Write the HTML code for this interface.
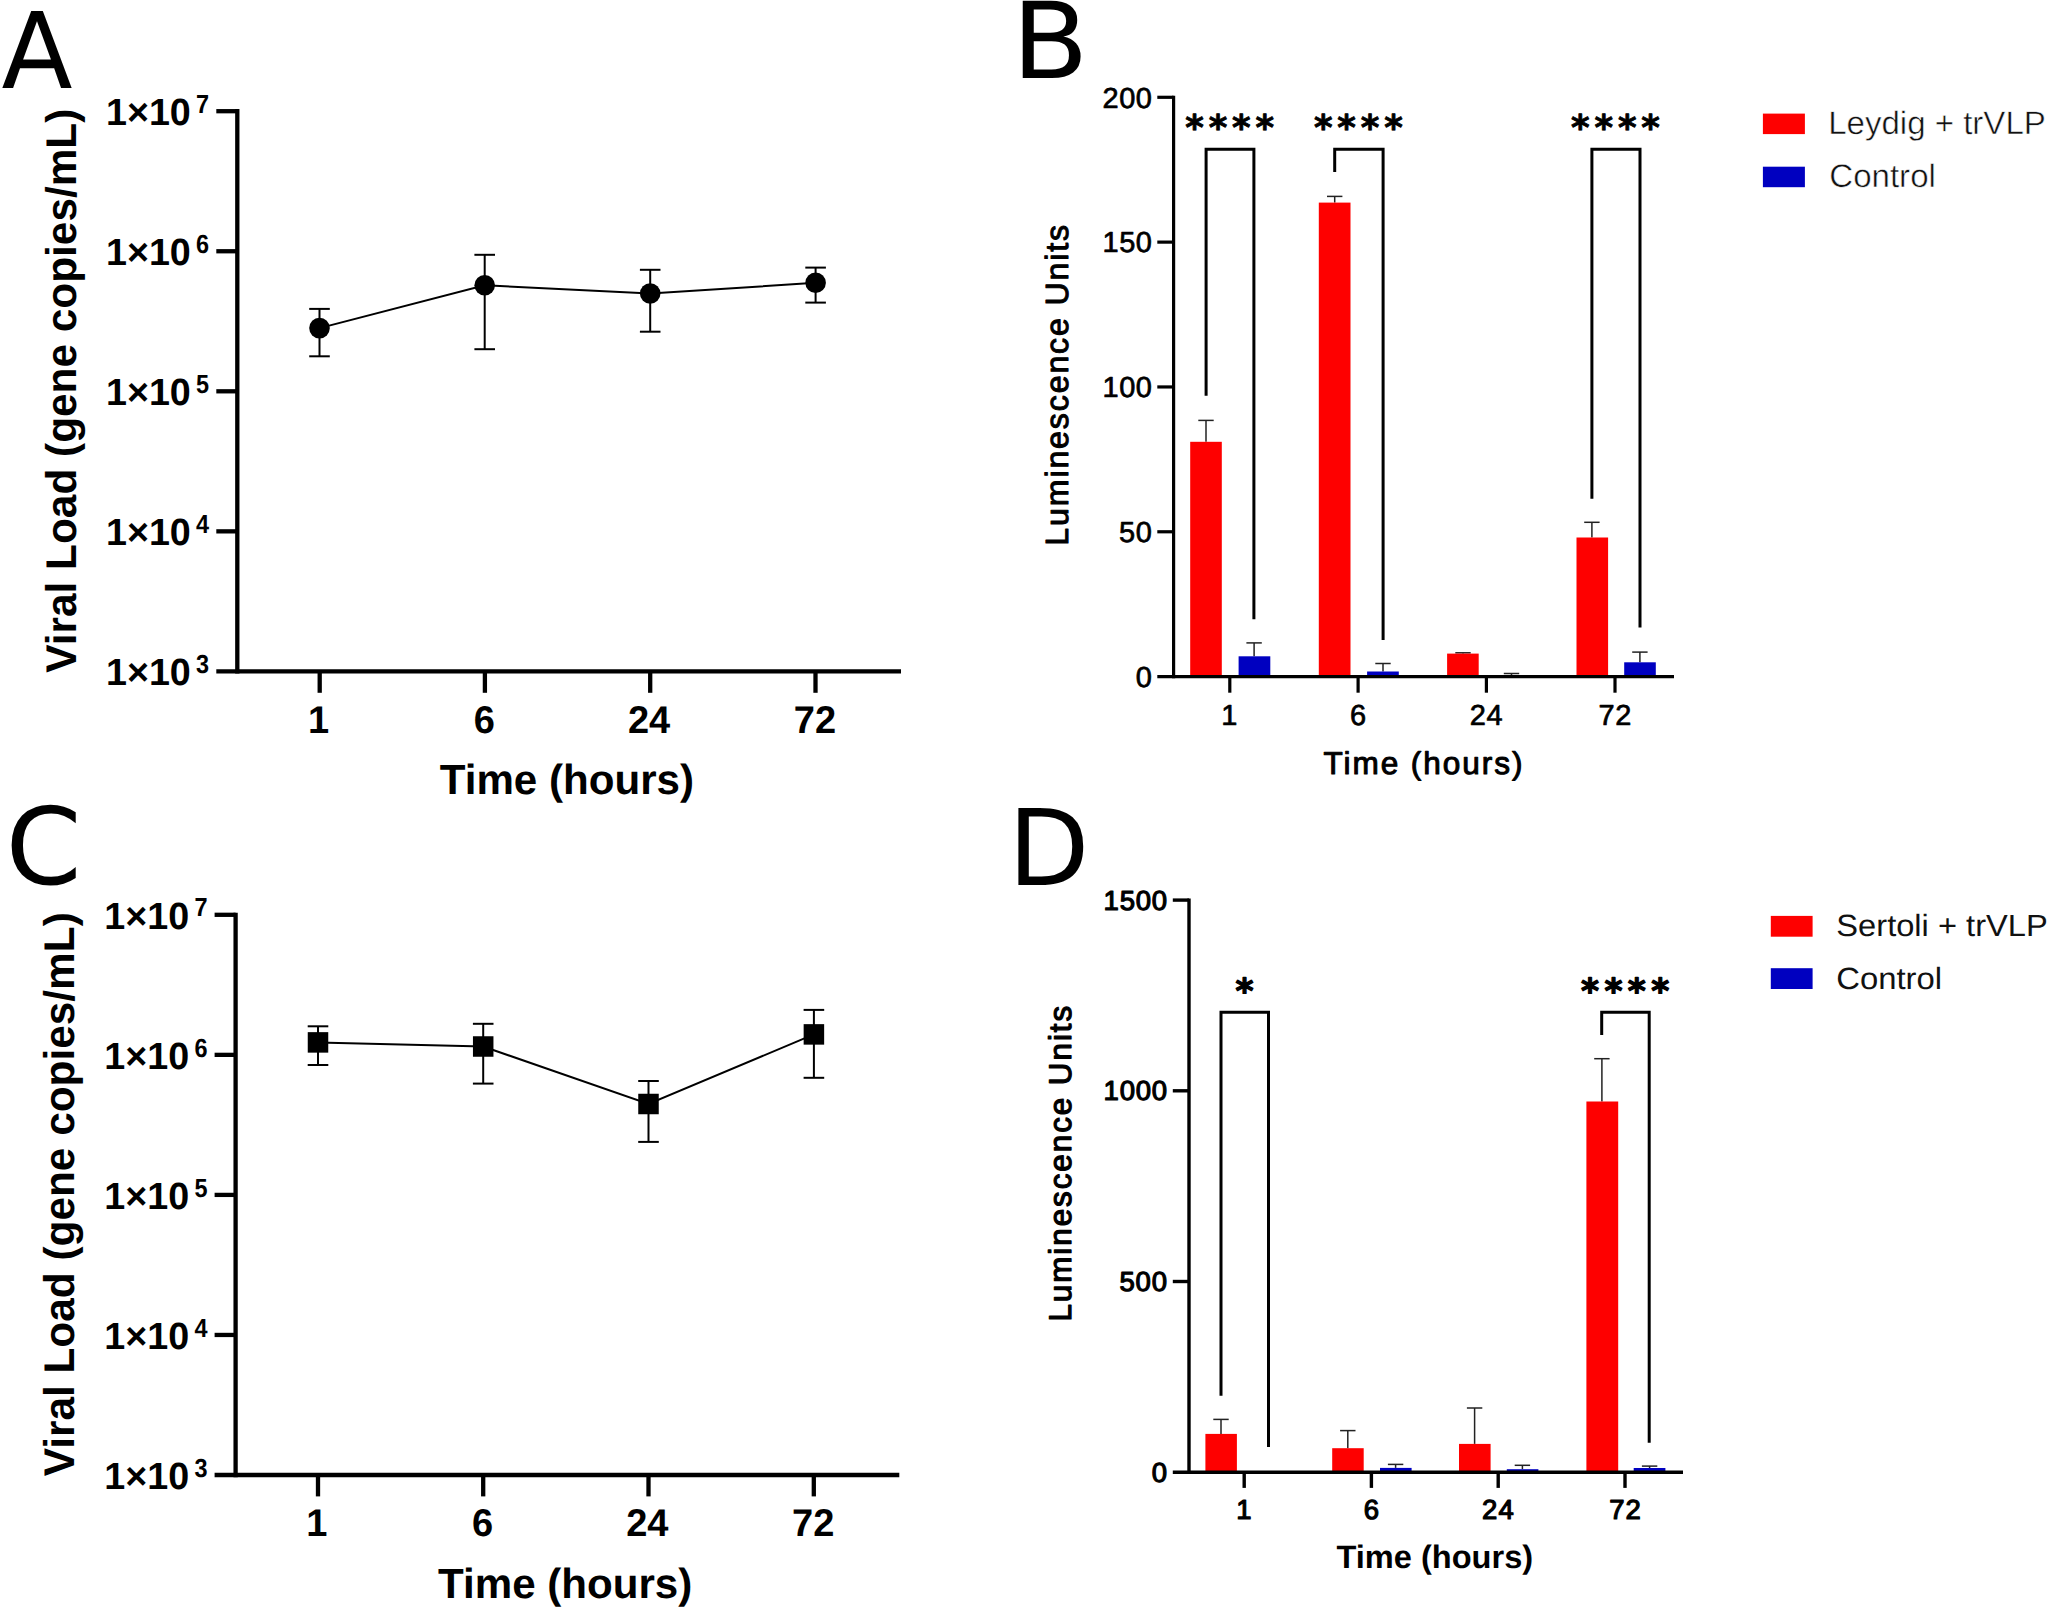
<!DOCTYPE html>
<html lang="en"><head><meta charset="utf-8"><title>Figure</title>
<style>html,body{margin:0;padding:0;background:#fff;overflow:hidden;}svg{display:block;}text{text-rendering:geometricPrecision;}</style>
</head><body>
<svg width="2050" height="1609" viewBox="0 0 2050 1609">
<rect width="2050" height="1609" fill="#fff"/>
<g id="panel-labels">
<text x="1.52" y="88.3" font-family='"DejaVu Sans", "Liberation Sans", sans-serif' font-size="105.62" textLength="71.02" lengthAdjust="spacingAndGlyphs">A</text>
<text x="1011.79" y="78.45" font-family='"DejaVu Sans", "Liberation Sans", sans-serif' font-size="105.82" textLength="76.76" lengthAdjust="spacingAndGlyphs">B</text>
<text x="5.51" y="884.3" font-family='"DejaVu Sans", "Liberation Sans", sans-serif' font-size="106.73" textLength="76.1" lengthAdjust="spacingAndGlyphs">C</text>
<text x="1007.98" y="885.3" font-family='"DejaVu Sans", "Liberation Sans", sans-serif' font-size="105.68" textLength="81.47" lengthAdjust="spacingAndGlyphs">D</text>
</g>
<g id="panel-a">
<line x1="237.3" y1="109.05" x2="237.3" y2="673.55" stroke="#000" stroke-width="4.3"/>
<line x1="216.3" y1="671.4" x2="901" y2="671.4" stroke="#000" stroke-width="4.3"/>
<line x1="216.3" y1="111.2" x2="237.3" y2="111.2" stroke="#000" stroke-width="4.3"/>
<text x="105.95" y="124.96" font-family='"Liberation Sans", sans-serif' font-size="37.98" font-weight="bold" textLength="84.86" lengthAdjust="spacingAndGlyphs">1×10</text>
<text x="196.1" y="112.85" font-family='"Liberation Sans", sans-serif' font-size="26.1" font-weight="bold" textLength="13.06" lengthAdjust="spacingAndGlyphs">7</text>
<line x1="216.3" y1="251.25" x2="237.3" y2="251.25" stroke="#000" stroke-width="4.3"/>
<text x="105.95" y="265.01" font-family='"Liberation Sans", sans-serif' font-size="37.98" font-weight="bold" textLength="84.86" lengthAdjust="spacingAndGlyphs">1×10</text>
<text x="196.1" y="252.9" font-family='"Liberation Sans", sans-serif' font-size="26.1" font-weight="bold" textLength="13.06" lengthAdjust="spacingAndGlyphs">6</text>
<line x1="216.3" y1="391.3" x2="237.3" y2="391.3" stroke="#000" stroke-width="4.3"/>
<text x="105.95" y="405.06" font-family='"Liberation Sans", sans-serif' font-size="37.98" font-weight="bold" textLength="84.86" lengthAdjust="spacingAndGlyphs">1×10</text>
<text x="196.1" y="392.95" font-family='"Liberation Sans", sans-serif' font-size="26.1" font-weight="bold" textLength="13.06" lengthAdjust="spacingAndGlyphs">5</text>
<line x1="216.3" y1="531.35" x2="237.3" y2="531.35" stroke="#000" stroke-width="4.3"/>
<text x="105.95" y="545.11" font-family='"Liberation Sans", sans-serif' font-size="37.98" font-weight="bold" textLength="84.86" lengthAdjust="spacingAndGlyphs">1×10</text>
<text x="196.1" y="533" font-family='"Liberation Sans", sans-serif' font-size="26.1" font-weight="bold" textLength="13.06" lengthAdjust="spacingAndGlyphs">4</text>
<text x="105.95" y="685.16" font-family='"Liberation Sans", sans-serif' font-size="37.98" font-weight="bold" textLength="84.86" lengthAdjust="spacingAndGlyphs">1×10</text>
<text x="196.1" y="673.05" font-family='"Liberation Sans", sans-serif' font-size="26.1" font-weight="bold" textLength="13.06" lengthAdjust="spacingAndGlyphs">3</text>
<line x1="319.7" y1="671.4" x2="319.7" y2="692.8" stroke="#000" stroke-width="4.3"/>
<text x="307.88" y="732.5" font-family='"Liberation Sans", sans-serif' font-size="38.6" font-weight="bold" textLength="21.15" lengthAdjust="spacingAndGlyphs">1</text>
<line x1="484.9" y1="671.4" x2="484.9" y2="692.8" stroke="#000" stroke-width="4.3"/>
<text x="473.7" y="732.5" font-family='"Liberation Sans", sans-serif' font-size="38.6" font-weight="bold" textLength="21.15" lengthAdjust="spacingAndGlyphs">6</text>
<line x1="650.2" y1="671.4" x2="650.2" y2="692.8" stroke="#000" stroke-width="4.3"/>
<text x="627.93" y="732.5" font-family='"Liberation Sans", sans-serif' font-size="38.6" font-weight="bold" textLength="42.29" lengthAdjust="spacingAndGlyphs">24</text>
<line x1="815.5" y1="671.4" x2="815.5" y2="692.8" stroke="#000" stroke-width="4.3"/>
<text x="793.75" y="732.5" font-family='"Liberation Sans", sans-serif' font-size="38.6" font-weight="bold" textLength="42.29" lengthAdjust="spacingAndGlyphs">72</text>
<text x="439.78" y="794.4" font-family='"Liberation Sans", sans-serif' font-size="42.04" font-weight="bold" textLength="254.24" lengthAdjust="spacingAndGlyphs">Time (hours)</text>
<text x="76" y="672.72" font-family='"Liberation Sans", sans-serif' font-size="42.91" font-weight="bold" textLength="564.07" lengthAdjust="spacingAndGlyphs" transform="rotate(-90 76 672.72)">Viral Load (gene copies/mL)</text>
<polyline points="319.5,328.1 484.7,285.3 650.2,293.5 815.6,282.8" fill="none" stroke="#000" stroke-width="2"/>
<line x1="319.5" y1="308.9" x2="319.5" y2="356.3" stroke="#000" stroke-width="2"/>
<line x1="309.2" y1="308.9" x2="329.8" y2="308.9" stroke="#000" stroke-width="2"/>
<line x1="309.2" y1="356.3" x2="329.8" y2="356.3" stroke="#000" stroke-width="2"/>
<circle cx="319.5" cy="328.1" r="10.3" fill="#000"/>
<line x1="484.7" y1="254.8" x2="484.7" y2="349.2" stroke="#000" stroke-width="2"/>
<line x1="474.4" y1="254.8" x2="495" y2="254.8" stroke="#000" stroke-width="2"/>
<line x1="474.4" y1="349.2" x2="495" y2="349.2" stroke="#000" stroke-width="2"/>
<circle cx="484.7" cy="285.3" r="10.3" fill="#000"/>
<line x1="650.2" y1="269.8" x2="650.2" y2="331.7" stroke="#000" stroke-width="2"/>
<line x1="639.9" y1="269.8" x2="660.5" y2="269.8" stroke="#000" stroke-width="2"/>
<line x1="639.9" y1="331.7" x2="660.5" y2="331.7" stroke="#000" stroke-width="2"/>
<circle cx="650.2" cy="293.5" r="10.3" fill="#000"/>
<line x1="815.6" y1="267.6" x2="815.6" y2="302.6" stroke="#000" stroke-width="2"/>
<line x1="805.3" y1="267.6" x2="825.9" y2="267.6" stroke="#000" stroke-width="2"/>
<line x1="805.3" y1="302.6" x2="825.9" y2="302.6" stroke="#000" stroke-width="2"/>
<circle cx="815.6" cy="282.8" r="10.3" fill="#000"/>
</g>
<g id="panel-c">
<line x1="235.6" y1="912.65" x2="235.6" y2="1477.15" stroke="#000" stroke-width="4.3"/>
<line x1="214.6" y1="1475" x2="899.3" y2="1475" stroke="#000" stroke-width="4.3"/>
<line x1="214.6" y1="914.8" x2="235.6" y2="914.8" stroke="#000" stroke-width="4.3"/>
<text x="104.25" y="928.56" font-family='"Liberation Sans", sans-serif' font-size="37.98" font-weight="bold" textLength="84.86" lengthAdjust="spacingAndGlyphs">1×10</text>
<text x="194.4" y="916.45" font-family='"Liberation Sans", sans-serif' font-size="26.1" font-weight="bold" textLength="13.06" lengthAdjust="spacingAndGlyphs">7</text>
<line x1="214.6" y1="1054.85" x2="235.6" y2="1054.85" stroke="#000" stroke-width="4.3"/>
<text x="104.25" y="1068.61" font-family='"Liberation Sans", sans-serif' font-size="37.98" font-weight="bold" textLength="84.86" lengthAdjust="spacingAndGlyphs">1×10</text>
<text x="194.4" y="1056.5" font-family='"Liberation Sans", sans-serif' font-size="26.1" font-weight="bold" textLength="13.06" lengthAdjust="spacingAndGlyphs">6</text>
<line x1="214.6" y1="1194.9" x2="235.6" y2="1194.9" stroke="#000" stroke-width="4.3"/>
<text x="104.25" y="1208.66" font-family='"Liberation Sans", sans-serif' font-size="37.98" font-weight="bold" textLength="84.86" lengthAdjust="spacingAndGlyphs">1×10</text>
<text x="194.4" y="1196.55" font-family='"Liberation Sans", sans-serif' font-size="26.1" font-weight="bold" textLength="13.06" lengthAdjust="spacingAndGlyphs">5</text>
<line x1="214.6" y1="1334.95" x2="235.6" y2="1334.95" stroke="#000" stroke-width="4.3"/>
<text x="104.25" y="1348.71" font-family='"Liberation Sans", sans-serif' font-size="37.98" font-weight="bold" textLength="84.86" lengthAdjust="spacingAndGlyphs">1×10</text>
<text x="194.4" y="1336.6" font-family='"Liberation Sans", sans-serif' font-size="26.1" font-weight="bold" textLength="13.06" lengthAdjust="spacingAndGlyphs">4</text>
<text x="104.25" y="1488.76" font-family='"Liberation Sans", sans-serif' font-size="37.98" font-weight="bold" textLength="84.86" lengthAdjust="spacingAndGlyphs">1×10</text>
<text x="194.4" y="1476.65" font-family='"Liberation Sans", sans-serif' font-size="26.1" font-weight="bold" textLength="13.06" lengthAdjust="spacingAndGlyphs">3</text>
<line x1="318" y1="1475" x2="318" y2="1496.4" stroke="#000" stroke-width="4.3"/>
<text x="306.18" y="1536.1" font-family='"Liberation Sans", sans-serif' font-size="38.6" font-weight="bold" textLength="21.15" lengthAdjust="spacingAndGlyphs">1</text>
<line x1="483.2" y1="1475" x2="483.2" y2="1496.4" stroke="#000" stroke-width="4.3"/>
<text x="472" y="1536.1" font-family='"Liberation Sans", sans-serif' font-size="38.6" font-weight="bold" textLength="21.15" lengthAdjust="spacingAndGlyphs">6</text>
<line x1="648.5" y1="1475" x2="648.5" y2="1496.4" stroke="#000" stroke-width="4.3"/>
<text x="626.23" y="1536.1" font-family='"Liberation Sans", sans-serif' font-size="38.6" font-weight="bold" textLength="42.29" lengthAdjust="spacingAndGlyphs">24</text>
<line x1="813.8" y1="1475" x2="813.8" y2="1496.4" stroke="#000" stroke-width="4.3"/>
<text x="792.05" y="1536.1" font-family='"Liberation Sans", sans-serif' font-size="38.6" font-weight="bold" textLength="42.29" lengthAdjust="spacingAndGlyphs">72</text>
<text x="438.08" y="1598" font-family='"Liberation Sans", sans-serif' font-size="42.04" font-weight="bold" textLength="254.24" lengthAdjust="spacingAndGlyphs">Time (hours)</text>
<text x="74.3" y="1476.32" font-family='"Liberation Sans", sans-serif' font-size="42.91" font-weight="bold" textLength="564.07" lengthAdjust="spacingAndGlyphs" transform="rotate(-90 74.3 1476.32)">Viral Load (gene copies/mL)</text>
<polyline points="318,1042.4 483.2,1046.5 648.5,1104 813.9,1034.4" fill="none" stroke="#000" stroke-width="2"/>
<line x1="318" y1="1026.3" x2="318" y2="1065" stroke="#000" stroke-width="2"/>
<line x1="307.7" y1="1026.3" x2="328.3" y2="1026.3" stroke="#000" stroke-width="2"/>
<line x1="307.7" y1="1065" x2="328.3" y2="1065" stroke="#000" stroke-width="2"/>
<rect x="307.75" y="1032.15" width="20.5" height="20.5" fill="#000"/>
<line x1="483.2" y1="1023.8" x2="483.2" y2="1083.6" stroke="#000" stroke-width="2"/>
<line x1="472.9" y1="1023.8" x2="493.5" y2="1023.8" stroke="#000" stroke-width="2"/>
<line x1="472.9" y1="1083.6" x2="493.5" y2="1083.6" stroke="#000" stroke-width="2"/>
<rect x="472.95" y="1036.25" width="20.5" height="20.5" fill="#000"/>
<line x1="648.5" y1="1081" x2="648.5" y2="1141.9" stroke="#000" stroke-width="2"/>
<line x1="638.2" y1="1081" x2="658.8" y2="1081" stroke="#000" stroke-width="2"/>
<line x1="638.2" y1="1141.9" x2="658.8" y2="1141.9" stroke="#000" stroke-width="2"/>
<rect x="638.25" y="1093.75" width="20.5" height="20.5" fill="#000"/>
<line x1="813.9" y1="1009.9" x2="813.9" y2="1077.8" stroke="#000" stroke-width="2"/>
<line x1="803.6" y1="1009.9" x2="824.2" y2="1009.9" stroke="#000" stroke-width="2"/>
<line x1="803.6" y1="1077.8" x2="824.2" y2="1077.8" stroke="#000" stroke-width="2"/>
<rect x="803.65" y="1024.15" width="20.5" height="20.5" fill="#000"/>
</g>
<g id="panel-b">
<line x1="1206" y1="420.4" x2="1206" y2="441.8" stroke="#222" stroke-width="1.5"/>
<line x1="1198.3" y1="420.4" x2="1213.7" y2="420.4" stroke="#222" stroke-width="1.5"/>
<rect x="1190.2" y="441.8" width="31.6" height="234.8" fill="#fe0000"/>
<line x1="1254.1" y1="642.9" x2="1254.1" y2="656.3" stroke="#222" stroke-width="1.5"/>
<line x1="1246.4" y1="642.9" x2="1261.8" y2="642.9" stroke="#222" stroke-width="1.5"/>
<rect x="1238.6" y="656.3" width="31.7" height="20.3" fill="#0000c0"/>
<line x1="1334.7" y1="196.4" x2="1334.7" y2="202.6" stroke="#222" stroke-width="1.5"/>
<line x1="1327" y1="196.4" x2="1342.4" y2="196.4" stroke="#222" stroke-width="1.5"/>
<rect x="1318.8" y="202.6" width="31.7" height="474" fill="#fe0000"/>
<line x1="1383" y1="663.5" x2="1383" y2="671.5" stroke="#222" stroke-width="1.5"/>
<line x1="1375.3" y1="663.5" x2="1390.7" y2="663.5" stroke="#222" stroke-width="1.5"/>
<rect x="1367.1" y="671.5" width="31.7" height="5.1" fill="#0000c0"/>
<line x1="1463" y1="652.8" x2="1463" y2="653.6" stroke="#222" stroke-width="1.5"/>
<line x1="1455.3" y1="652.8" x2="1470.7" y2="652.8" stroke="#222" stroke-width="1.5"/>
<rect x="1447.1" y="653.6" width="31.6" height="23" fill="#fe0000"/>
<line x1="1511.5" y1="673.5" x2="1511.5" y2="675.6" stroke="#222" stroke-width="1.5"/>
<line x1="1503.8" y1="673.5" x2="1519.2" y2="673.5" stroke="#222" stroke-width="1.5"/>
<rect x="1495.5" y="675.6" width="31.6" height="1" fill="#0000c0"/>
<line x1="1591.9" y1="522.3" x2="1591.9" y2="537.5" stroke="#222" stroke-width="1.5"/>
<line x1="1584.2" y1="522.3" x2="1599.6" y2="522.3" stroke="#222" stroke-width="1.5"/>
<rect x="1576.5" y="537.5" width="31.6" height="139.1" fill="#fe0000"/>
<line x1="1639.9" y1="652.1" x2="1639.9" y2="662.3" stroke="#222" stroke-width="1.5"/>
<line x1="1632.2" y1="652.1" x2="1647.6" y2="652.1" stroke="#222" stroke-width="1.5"/>
<rect x="1624.2" y="662.3" width="31.6" height="14.3" fill="#0000c0"/>
<line x1="1173.6" y1="95.7" x2="1173.6" y2="678.2" stroke="#000" stroke-width="3.2"/>
<line x1="1157.3" y1="676.6" x2="1674" y2="676.6" stroke="#000" stroke-width="3.2"/>
<line x1="1157.3" y1="97.3" x2="1173.6" y2="97.3" stroke="#000" stroke-width="3.2"/>
<text x="1102.58" y="107.5" font-family='"Liberation Sans", sans-serif' font-size="28.96" textLength="49.24" lengthAdjust="spacing" stroke="#000" stroke-width="0.7" stroke-linejoin="round">200</text>
<line x1="1157.3" y1="242.12" x2="1173.6" y2="242.12" stroke="#000" stroke-width="3.2"/>
<text x="1102.59" y="252.32" font-family='"Liberation Sans", sans-serif' font-size="28.96" textLength="49.22" lengthAdjust="spacing" stroke="#000" stroke-width="0.7" stroke-linejoin="round">150</text>
<line x1="1157.3" y1="386.95" x2="1173.6" y2="386.95" stroke="#000" stroke-width="3.2"/>
<text x="1102.59" y="397.15" font-family='"Liberation Sans", sans-serif' font-size="28.96" textLength="49.22" lengthAdjust="spacing" stroke="#000" stroke-width="0.7" stroke-linejoin="round">100</text>
<line x1="1157.3" y1="531.77" x2="1173.6" y2="531.77" stroke="#000" stroke-width="3.2"/>
<text x="1119.04" y="541.98" font-family='"Liberation Sans", sans-serif' font-size="28.96" textLength="32.81" lengthAdjust="spacing" stroke="#000" stroke-width="0.7" stroke-linejoin="round">50</text>
<text x="1135.71" y="686.8" font-family='"Liberation Sans", sans-serif' font-size="28.96" stroke="#000" stroke-width="0.7" stroke-linejoin="round">0</text>
<line x1="1229.8" y1="676.6" x2="1229.8" y2="692.7" stroke="#000" stroke-width="3.2"/>
<text x="1221.37" y="724.5" font-family='"Liberation Sans", sans-serif' font-size="28.96" stroke="#000" stroke-width="0.7" stroke-linejoin="round">1</text>
<line x1="1358.1" y1="676.6" x2="1358.1" y2="692.7" stroke="#000" stroke-width="3.2"/>
<text x="1349.95" y="724.5" font-family='"Liberation Sans", sans-serif' font-size="28.96" stroke="#000" stroke-width="0.7" stroke-linejoin="round">6</text>
<line x1="1486.4" y1="676.6" x2="1486.4" y2="692.7" stroke="#000" stroke-width="3.2"/>
<text x="1469.7" y="724.5" font-family='"Liberation Sans", sans-serif' font-size="28.96" textLength="32.81" lengthAdjust="spacing" stroke="#000" stroke-width="0.7" stroke-linejoin="round">24</text>
<line x1="1615" y1="676.6" x2="1615" y2="692.7" stroke="#000" stroke-width="3.2"/>
<text x="1598.6" y="724.5" font-family='"Liberation Sans", sans-serif' font-size="28.96" textLength="32.8" lengthAdjust="spacing" stroke="#000" stroke-width="0.7" stroke-linejoin="round">72</text>
<text x="1323.39" y="774" font-family='"Liberation Sans", sans-serif' font-size="31.56" textLength="199.1" lengthAdjust="spacing" stroke="#000" stroke-width="1" stroke-linejoin="round">Time (hours)</text>
<text x="1067.7" y="545.65" font-family='"Liberation Sans", sans-serif' font-size="32.15" textLength="320.77" lengthAdjust="spacing" transform="rotate(-90 1067.7 545.65)" stroke="#000" stroke-width="1" stroke-linejoin="round">Luminescence Units</text>
<polyline points="1206.1,395.8 1206.1,149.2 1253.9,149.2 1253.9,619.3" fill="none" stroke="#000" stroke-width="3"/>
<polyline points="1334.7,172 1334.7,149.2 1383.1,149.2 1383.1,639.9" fill="none" stroke="#000" stroke-width="3"/>
<polyline points="1591.9,498.7 1591.9,149.2 1640,149.2 1640,627.5" fill="none" stroke="#000" stroke-width="3"/>
<text x="1185.19 1208.64 1232.09 1255.54" y="140.05" font-family='"DejaVu Sans", "Liberation Sans", sans-serif' font-size="35.48" font-weight="bold" stroke="#000" stroke-width="0.8" stroke-linejoin="round">****</text>
<text x="1313.89 1337.34 1360.79 1384.24" y="140.05" font-family='"DejaVu Sans", "Liberation Sans", sans-serif' font-size="35.48" font-weight="bold" stroke="#000" stroke-width="0.8" stroke-linejoin="round">****</text>
<text x="1570.99 1594.44 1617.89 1641.34" y="140.05" font-family='"DejaVu Sans", "Liberation Sans", sans-serif' font-size="35.48" font-weight="bold" stroke="#000" stroke-width="0.8" stroke-linejoin="round">****</text>
<rect x="1762.9" y="113.6" width="42" height="20.5" fill="#fe0000"/>
<rect x="1762.9" y="166.7" width="42" height="20.5" fill="#0000c0"/>
<text x="1828.17" y="133.8" font-family='"Liberation Sans", sans-serif' font-size="32.44" fill="#111" textLength="217.66" lengthAdjust="spacingAndGlyphs" stroke="#fff" stroke-width="0.5">Leydig + trVLP</text>
<text x="1829.25" y="187.1" font-family='"Liberation Sans", sans-serif' font-size="32.44" fill="#111" textLength="106.65" lengthAdjust="spacingAndGlyphs" stroke="#fff" stroke-width="0.5">Control</text>
</g>
<g id="panel-d">
<line x1="1221" y1="1419.4" x2="1221" y2="1433.9" stroke="#222" stroke-width="1.5"/>
<line x1="1213.3" y1="1419.4" x2="1228.7" y2="1419.4" stroke="#222" stroke-width="1.5"/>
<rect x="1205.4" y="1433.9" width="31.5" height="38.3" fill="#fe0000"/>
<line x1="1347.8" y1="1430.6" x2="1347.8" y2="1448.2" stroke="#222" stroke-width="1.5"/>
<line x1="1340.1" y1="1430.6" x2="1355.5" y2="1430.6" stroke="#222" stroke-width="1.5"/>
<rect x="1332.2" y="1448.2" width="31.5" height="24" fill="#fe0000"/>
<line x1="1395.6" y1="1464.4" x2="1395.6" y2="1467.9" stroke="#222" stroke-width="1.5"/>
<line x1="1387.9" y1="1464.4" x2="1403.3" y2="1464.4" stroke="#222" stroke-width="1.5"/>
<rect x="1380" y="1467.9" width="31.6" height="4.3" fill="#0000c0"/>
<line x1="1474.6" y1="1408" x2="1474.6" y2="1443.9" stroke="#222" stroke-width="1.5"/>
<line x1="1466.9" y1="1408" x2="1482.3" y2="1408" stroke="#222" stroke-width="1.5"/>
<rect x="1459" y="1443.9" width="31.6" height="28.3" fill="#fe0000"/>
<line x1="1522.4" y1="1465.3" x2="1522.4" y2="1469.2" stroke="#222" stroke-width="1.5"/>
<line x1="1514.7" y1="1465.3" x2="1530.1" y2="1465.3" stroke="#222" stroke-width="1.5"/>
<rect x="1506.8" y="1469.2" width="31.6" height="3" fill="#0000c0"/>
<line x1="1601.9" y1="1058.7" x2="1601.9" y2="1101.5" stroke="#222" stroke-width="1.5"/>
<line x1="1594.2" y1="1058.7" x2="1609.6" y2="1058.7" stroke="#222" stroke-width="1.5"/>
<rect x="1586.4" y="1101.5" width="31.8" height="370.7" fill="#fe0000"/>
<line x1="1649.6" y1="1466.1" x2="1649.6" y2="1468" stroke="#222" stroke-width="1.5"/>
<line x1="1641.9" y1="1466.1" x2="1657.3" y2="1466.1" stroke="#222" stroke-width="1.5"/>
<rect x="1633.7" y="1468" width="31.7" height="4.2" fill="#0000c0"/>
<line x1="1189" y1="898.4" x2="1189" y2="1473.9" stroke="#000" stroke-width="3.4"/>
<line x1="1172.8" y1="1472.2" x2="1683" y2="1472.2" stroke="#000" stroke-width="3.4"/>
<line x1="1172.8" y1="900.1" x2="1189" y2="900.1" stroke="#000" stroke-width="3.4"/>
<text x="1103.59" y="909.6" font-family='"Liberation Sans", sans-serif' font-size="27.5" textLength="63.5" lengthAdjust="spacing" stroke="#000" stroke-width="1.2" stroke-linejoin="round">1500</text>
<line x1="1172.8" y1="1090.8" x2="1189" y2="1090.8" stroke="#000" stroke-width="3.4"/>
<text x="1103.59" y="1100.3" font-family='"Liberation Sans", sans-serif' font-size="27.5" textLength="63.5" lengthAdjust="spacing" stroke="#000" stroke-width="1.2" stroke-linejoin="round">1000</text>
<line x1="1172.8" y1="1281.5" x2="1189" y2="1281.5" stroke="#000" stroke-width="3.4"/>
<text x="1119.43" y="1291" font-family='"Liberation Sans", sans-serif' font-size="27.5" textLength="47.63" lengthAdjust="spacing" stroke="#000" stroke-width="1.2" stroke-linejoin="round">500</text>
<text x="1151.77" y="1481.7" font-family='"Liberation Sans", sans-serif' font-size="27.5" stroke="#000" stroke-width="1.2" stroke-linejoin="round">0</text>
<line x1="1244.2" y1="1472.2" x2="1244.2" y2="1487.9" stroke="#000" stroke-width="3.4"/>
<text x="1236.19" y="1518.8" font-family='"Liberation Sans", sans-serif' font-size="27.5" stroke="#000" stroke-width="1.2" stroke-linejoin="round">1</text>
<line x1="1371.4" y1="1472.2" x2="1371.4" y2="1487.9" stroke="#000" stroke-width="3.4"/>
<text x="1363.67" y="1518.8" font-family='"Liberation Sans", sans-serif' font-size="27.5" stroke="#000" stroke-width="1.2" stroke-linejoin="round">6</text>
<line x1="1498.2" y1="1472.2" x2="1498.2" y2="1487.9" stroke="#000" stroke-width="3.4"/>
<text x="1482.06" y="1518.8" font-family='"Liberation Sans", sans-serif' font-size="27.5" textLength="31.73" lengthAdjust="spacing" stroke="#000" stroke-width="1.2" stroke-linejoin="round">24</text>
<line x1="1625" y1="1472.2" x2="1625" y2="1487.9" stroke="#000" stroke-width="3.4"/>
<text x="1609.15" y="1518.8" font-family='"Liberation Sans", sans-serif' font-size="27.5" textLength="31.7" lengthAdjust="spacing" stroke="#000" stroke-width="1.2" stroke-linejoin="round">72</text>
<text x="1336.47" y="1568" font-family='"Liberation Sans", sans-serif' font-size="32.44" font-weight="bold" textLength="196.66" lengthAdjust="spacingAndGlyphs">Time (hours)</text>
<text x="1071.1" y="1321.59" font-family='"Liberation Sans", sans-serif' font-size="31.42" textLength="315.78" lengthAdjust="spacing" transform="rotate(-90 1071.1 1321.59)" stroke="#000" stroke-width="1.2" stroke-linejoin="round">Luminescence Units</text>
<polyline points="1221,1395.7 1221,1012.3 1268.5,1012.3 1268.5,1447.1" fill="none" stroke="#000" stroke-width="3"/>
<polyline points="1601.7,1035 1601.7,1012.3 1649.2,1012.3 1649.2,1442.7" fill="none" stroke="#000" stroke-width="3"/>
<text x="1235.56" y="1002.6" font-family='"DejaVu Sans", "Liberation Sans", sans-serif' font-size="34.41" font-weight="bold" stroke="#000" stroke-width="1.3" stroke-linejoin="round">*</text>
<text x="1580.96 1604.41 1627.86 1651.31" y="1002.6" font-family='"DejaVu Sans", "Liberation Sans", sans-serif' font-size="34.41" font-weight="bold" stroke="#000" stroke-width="1.3" stroke-linejoin="round">****</text>
<rect x="1770.8" y="915.9" width="41.8" height="20.8" fill="#fe0000"/>
<rect x="1770.8" y="968.2" width="41.8" height="20.8" fill="#0000c0"/>
<text x="1836.33" y="936.3" font-family='"Liberation Sans", sans-serif' font-size="30.69" fill="#111" textLength="211.39" lengthAdjust="spacingAndGlyphs">Sertoli + trVLP</text>
<text x="1836.16" y="988.6" font-family='"Liberation Sans", sans-serif' font-size="30.69" fill="#111" textLength="105.92" lengthAdjust="spacingAndGlyphs">Control</text>
</g>
</svg></body></html>
